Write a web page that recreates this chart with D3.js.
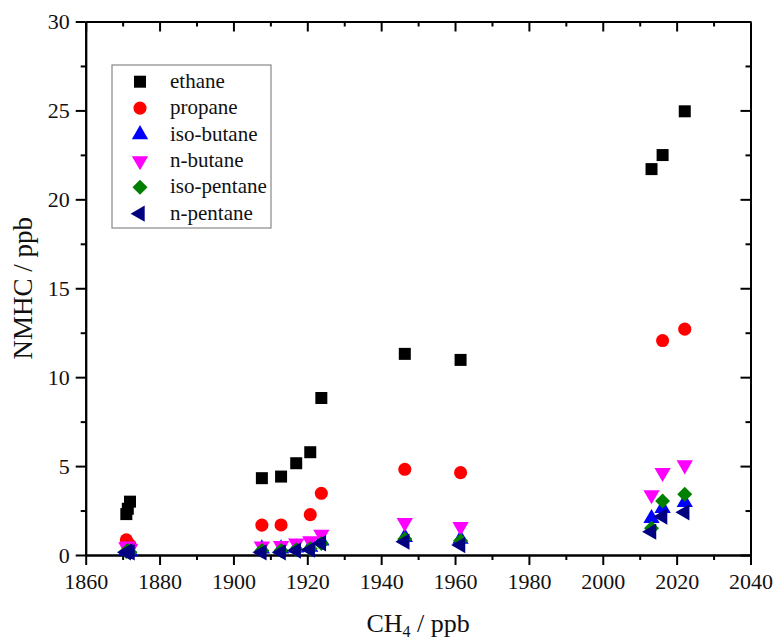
<!DOCTYPE html>
<html>
<head>
<meta charset="utf-8">
<title>NMHC vs CH4</title>
<script src="https://d3js.org/d3.v7.min.js"></script>
<style>
    body { margin: 0; background: #fff; }
    text { font-family: "Liberation Serif", "Times New Roman", serif; fill: #111; }
    .ax path, .ax line { stroke: #000; stroke-width: 2px; }
    .ax text { font-size: 22px; font-family: "Liberation Serif", "Times New Roman", serif; }
    .lgbox { fill: none; stroke: #888; stroke-width: 1.2px; }
</style>
</head>
<body>
<svg id="chart"></svg>
<script>
    // CH4 (ppb) of every sample, shared by all series
    var ch4 = [1871.0, 1871.4, 1872.0, 1907.7, 1912.9, 1917.0, 1920.8, 1923.8, 1946.4, 1961.5, 2013.2, 2016.2, 2022.2];

    // NMHC (ppb), null = no point
    var ethane     = [2.3, 2.6, 3.0, 4.32, 4.41, 5.16, 5.78, 8.83, 11.31, 10.97, 21.7, 22.49, 24.95];
    var propane    = [0.85, 0.7, 0.55, 1.68, 1.69, null, 2.27, 3.47, 4.82, 4.63, null, 12.06, 12.7];
    var isoButane  = [0.25, 0.3, 0.2, 0.35, 0.35, 0.4, 0.45, 0.8, 1.0, 0.9, 2.06, 2.63, 2.96];
    var nButane    = [0.45, 0.5, 0.35, 0.5, 0.52, 0.66, 0.79, 1.16, 1.82, 1.59, 3.38, 4.63, 5.06];
    var isoPentane = [0.2, 0.25, 0.15, 0.25, 0.25, 0.3, 0.35, 0.65, 0.9, 0.8, 1.5, 3.04, 3.41];
    var nPentane   = [0.15, 0.2, 0.15, 0.15, 0.15, 0.25, 0.3, 0.66, 0.75, 0.56, 1.31, 2.16, 2.4];

    var names = ["ethane", "propane", "iso-butane", "n-butane", "iso-pentane", "n-pentane"];
    var colors = ["#000000", "#ff0000", "#0000ff", "#ff00ff", "#008000", "#000080"];

    var xMajor = [1860, 1880, 1900, 1920, 1940, 1960, 1980, 2000, 2020, 2040];
    var xMinor = [1870, 1890, 1910, 1930, 1950, 1970, 1990, 2010, 2030];
    var yMajor = [0, 5, 10, 15, 20, 25, 30];
    var yMinor = [2.5, 7.5, 12.5, 17.5, 22.5, 27.5];

    var W = 777, H = 644,
        mLeft = 85.7, mRight = 750.5, mTop = 21.5, mBottom = 555;

    var svg = d3.select("#chart").attr("width", W).attr("height", H);

    var x = d3.scaleLinear().domain([1860, 2040]).range([mLeft, mRight]),
        y = d3.scaleLinear().domain([0, 30]).range([mBottom, mTop]);

    //marker shapes: [symbol type, area, rotation]
    var shapes = [
        [d3.symbolSquare, 144, 0],
        [d3.symbolCircle, 135, 0],
        [d3.symbolTriangle, 115, 0],
        [d3.symbolTriangle, 115, 180],
        [d3.symbolSquare, 112, 45],
        [d3.symbolTriangle, 115, -90]
    ];

    var series = [ethane, propane, isoButane, nButane, isoPentane, nPentane];

    //axes: bottom/left outward ticks with labels, top/right inward ticks
    function addAxis(axis, tx, ty) {
        return svg.append("g").attr("class", "ax").attr("transform", "translate(" + tx + "," + ty + ")").call(axis);
    }
    addAxis(d3.axisBottom(x).tickValues(xMajor).tickFormat(d3.format("d")).tickSize(10).tickSizeOuter(0).tickPadding(8), 0, mBottom);
    addAxis(d3.axisBottom(x).tickValues(xMinor).tickFormat("").tickSize(5).tickSizeOuter(0), 0, mBottom);
    addAxis(d3.axisLeft(y).tickValues(yMajor).tickSize(10).tickSizeOuter(0).tickPadding(6), mLeft, 0);
    addAxis(d3.axisLeft(y).tickValues(yMinor).tickFormat("").tickSize(5).tickSizeOuter(0), mLeft, 0);
    addAxis(d3.axisBottom(x).tickValues(xMajor).tickFormat("").tickSize(10).tickSizeOuter(0), 0, mTop);
    addAxis(d3.axisBottom(x).tickValues(xMinor).tickFormat("").tickSize(5).tickSizeOuter(0), 0, mTop);
    addAxis(d3.axisLeft(y).tickValues(yMajor).tickFormat("").tickSize(10).tickSizeOuter(0), mRight, 0);
    addAxis(d3.axisLeft(y).tickValues(yMinor).tickFormat("").tickSize(5).tickSizeOuter(0), mRight, 0);

    //axis titles
    var xt = svg.append("text").attr("x", (mLeft + mRight) / 2).attr("y", 632)
        .attr("text-anchor", "middle").style("font-size", "26px");
    xt.append("tspan").text("CH");
    xt.append("tspan").attr("dy", 5).style("font-size", "16px").text("4");
    xt.append("tspan").attr("dy", -5).text(" / ppb");

    svg.append("text").attr("transform", "translate(32," + (mTop + mBottom) / 2 + ") rotate(-90)")
        .attr("text-anchor", "middle").style("font-size", "27px").text("NMHC / ppb");

    //points
    series.forEach(function(vals, i) {
        var sym = d3.symbol().type(shapes[i][0]).size(shapes[i][1]);
        var pts = ch4.map(function(c, j) { return { c: c, v: vals[j] }; })
            .filter(function(d) { return d.v != null; });
        svg.append("g").selectAll("path").data(pts).enter()
            .append("path").attr("d", sym)
            .attr("transform", function(d) {
                return "translate(" + x(d.c) + "," + y(d.v) + ") rotate(" + shapes[i][2] + ")";
            })
            .attr("fill", colors[i]);
    });

    //legend
    var lg = svg.append("g");
    lg.append("rect").attr("class", "lgbox").attr("x", 112).attr("y", 65).attr("width", 159).attr("height", 163);
    names.forEach(function(n, i) {
        var yy = 81.7 + i * 26.4;
        lg.append("path").attr("d", d3.symbol().type(shapes[i][0]).size(shapes[i][1]))
            .attr("transform", "translate(140," + yy + ") rotate(" + shapes[i][2] + ")")
            .attr("fill", colors[i]);
        lg.append("text").attr("x", 170).attr("y", yy + 6).style("font-size", "21px").text(n);
    });
</script>
</body>
</html>
